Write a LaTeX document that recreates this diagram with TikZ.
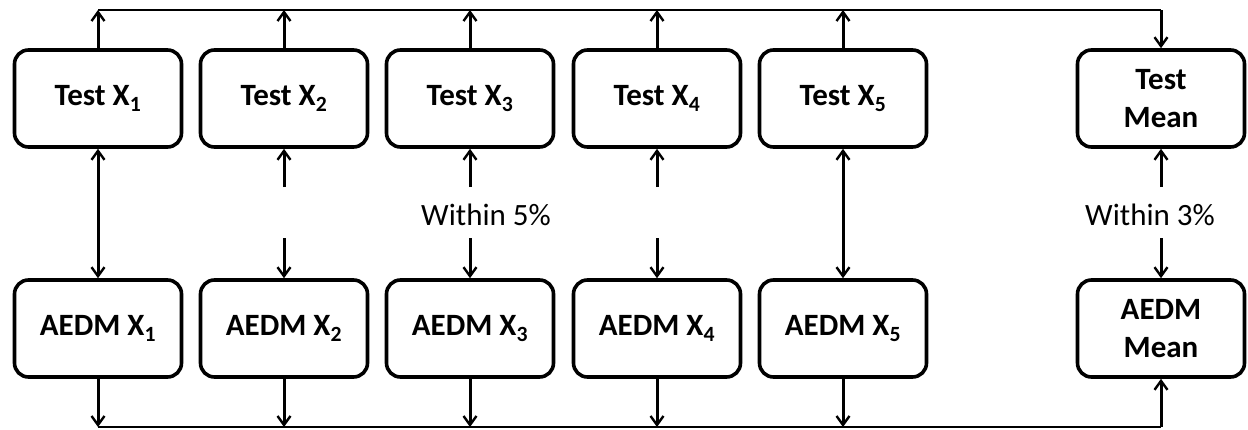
\documentclass[tikz,border=0pt]{standalone}
\usepackage{fontspec}
\setmainfont{Carlito}
\usetikzlibrary{arrows.meta}
\begin{document}
\begin{tikzpicture}[x=1pt,y=-1pt,
  box/.style={draw, line width=3.6pt, rounded corners=14pt, minimum width=167pt, minimum height=97pt, inner sep=0pt, align=center, font=\fontsize{31}{38}\selectfont\bfseries},
  lbl/.style={font=\fontsize{31}{37}\selectfont, inner sep=0pt},
  tip/.style={Straight Barb[length=9pt,width=13pt,line width=2.4pt]},
  conn/.style={line width=3pt, -{Straight Barb[length=9pt,width=13pt,line width=2.4pt]}},
  dconn/.style={line width=3pt, {Straight Barb[length=9pt,width=13pt,line width=2.4pt]}-{Straight Barb[length=9pt,width=13pt,line width=2.4pt]}},
  bus/.style={line width=2.4pt}]
\useasboundingbox (0,0) rectangle (1248,429);
% top row
\node[box] (t1) at (98,98.5) {Test X\textsubscript{1}};
\node[box] (t2) at (284,98.5) {Test X\textsubscript{2}};
\node[box] (t3) at (470,98.5) {Test X\textsubscript{3}};
\node[box] (t4) at (657,98.5) {Test X\textsubscript{4}};
\node[box] (t5) at (843,98.5) {Test X\textsubscript{5}};
\node[box] (tm) at (1161,98.5) {Test\\Mean};
% bottom row
\node[box] (a1) at (98,328.5) {AEDM X\textsubscript{1}};
\node[box] (a2) at (284,328.5) {AEDM X\textsubscript{2}};
\node[box] (a3) at (470,328.5) {AEDM X\textsubscript{3}};
\node[box] (a4) at (657,328.5) {AEDM X\textsubscript{4}};
\node[box] (a5) at (843,328.5) {AEDM X\textsubscript{5}};
\node[box] (am) at (1161,328.5) {AEDM\\Mean};
% labels
\node[lbl] (w5) at (486,215) {Within 5\%};
\node[lbl] (w3) at (1150,215) {Within 3\%};
% reference coordinates
\coordinate (top) at (0,10);
\coordinate (bot) at (0,427);
\coordinate (gu) at (0,187);
\coordinate (gd) at (0,238);
% top bus
\foreach \n in {t1,t2,t3,t4,t5}{
  \draw[conn] (\n.north) -- (\n.north |- top);
}
\draw[bus] (t1.north |- top) -- (tm.north |- top);
\draw[conn] (tm.north |- top) -- (tm.north);
% bottom bus
\foreach \n in {a1,a2,a3,a4,a5}{
  \draw[conn] (\n.south) -- (\n.south |- bot);
}
\draw[bus] (a1.south |- bot) -- (am.south |- bot);
\draw[conn] (am.south |- bot) -- (am.south);
% middle connectors
\draw[dconn] (t1.south) -- (a1.north);
\draw[dconn] (t5.south) -- (a5.north);
\foreach \n/\m in {t2/a2,t3/a3,t4/a4,tm/am}{
  \draw[conn] (\n.south |- gu) -- (\n.south);
  \draw[conn] (\m.north |- gd) -- (\m.north);
}
\end{tikzpicture}
\end{document}
